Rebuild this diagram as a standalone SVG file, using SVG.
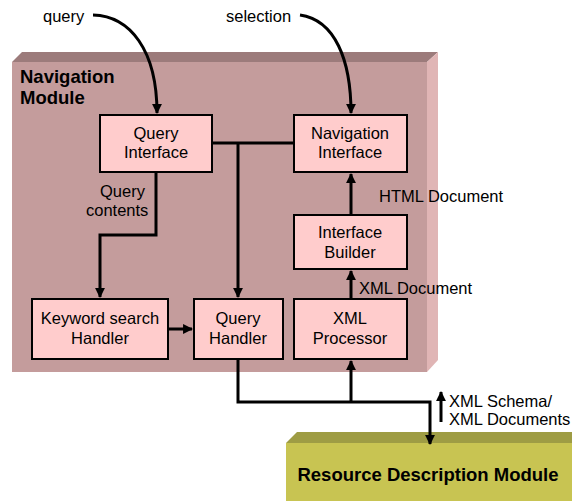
<svg xmlns="http://www.w3.org/2000/svg" width="572" height="501" viewBox="0 0 572 501">
<style>
text{font-family:"Liberation Sans",Arial,sans-serif;font-size:16.5px;fill:#000}
.b{font-weight:bold;font-size:18.5px}
.box{fill:#FFCCCC;stroke:#000;stroke-width:2}
.c{fill:none;stroke:#000;stroke-width:3}
.m{text-anchor:middle}
</style>
<defs>
<marker id="ah" viewBox="0 0 10 10" refX="9" refY="5" markerWidth="3.3" markerHeight="3.3" orient="auto" markerUnits="strokeWidth">
<path d="M0,0 L10,5 L0,10 z" fill="#000"/>
</marker>
</defs>
<rect width="572" height="501" fill="#fff"/>
<g id="navigation-module">
<polygon points="12,62 22,52 438,52 427,62" fill="#9C7B7B"/>
<polygon points="427,62 438,52 438,360 427,372" fill="#E0B5B5"/>
<rect x="12" y="62" width="415" height="310" fill="#C49C9C"/>
<text class="b" x="20" y="83">Navigation</text>
<text class="b" x="20" y="104">Module</text>
</g>
<g id="resource-module">
<polygon points="286,443 297,432 572,432 572,443" fill="#9E9C44"/>
<rect x="286" y="443" width="286" height="58" fill="#C8C452"/>
<text class="b m" x="428" y="481">Resource Description Module</text>
</g>
<g id="connectors">
<path class="c" d="M93,15 C130,16 157,50 157,113" marker-end="url(#ah)"/>
<path class="c" d="M300,15 C335,20 351,60 351,113" marker-end="url(#ah)"/>
<path class="c" d="M212,143 L294,143"/>
<path class="c" d="M238,143 L238,297" marker-end="url(#ah)"/>
<path class="c" d="M156,172 L156,235 L100,235 L100,297" marker-end="url(#ah)"/>
<path class="c" d="M168,329 L192,329" marker-end="url(#ah)"/>
<path class="c" d="M351,215 L351,174" marker-end="url(#ah)"/>
<path class="c" d="M351,299 L351,271" marker-end="url(#ah)"/>
<path class="c" d="M238,359 L238,402 L430,402 L430,444" marker-end="url(#ah)"/>
<path class="c" d="M351,402 L351,361" marker-end="url(#ah)"/>
<path class="c" d="M441,422 L441,392" marker-end="url(#ah)"/>
<text x="43" y="22">query</text>
<text x="226" y="22">selection</text>
<text x="100" y="197">Query</text>
<text x="86" y="216">contents</text>
<text x="379" y="202">HTML Document</text>
<text x="359" y="294">XML Document</text>
<text x="449" y="407">XML Schema/</text>
<text x="449" y="425">XML Documents</text>
</g>
<g id="query-interface">
<rect class="box" x="100" y="115" width="112" height="57"/>
<text class="m" x="156" y="139">Query</text>
<text class="m" x="156" y="158">Interface</text>
</g>
<g id="navigation-interface">
<rect class="box" x="294" y="115" width="113" height="57"/>
<text class="m" x="350" y="139">Navigation</text>
<text class="m" x="350" y="158">Interface</text>
</g>
<g id="interface-builder">
<rect class="box" x="294" y="215" width="113" height="54"/>
<text class="m" x="350" y="238">Interface</text>
<text class="m" x="350" y="258">Builder</text>
</g>
<g id="xml-processor">
<rect class="box" x="294" y="299" width="113" height="60"/>
<text class="m" x="350" y="324">XML</text>
<text class="m" x="350" y="344">Processor</text>
</g>
<g id="keyword-search-handler">
<rect class="box" x="32" y="299" width="136" height="60"/>
<text class="m" x="100" y="324">Keyword search</text>
<text class="m" x="100" y="344">Handler</text>
</g>
<g id="query-handler">
<rect class="box" x="194" y="299" width="89" height="60"/>
<text class="m" x="238" y="324">Query</text>
<text class="m" x="238" y="344">Handler</text>
</g>
</svg>
